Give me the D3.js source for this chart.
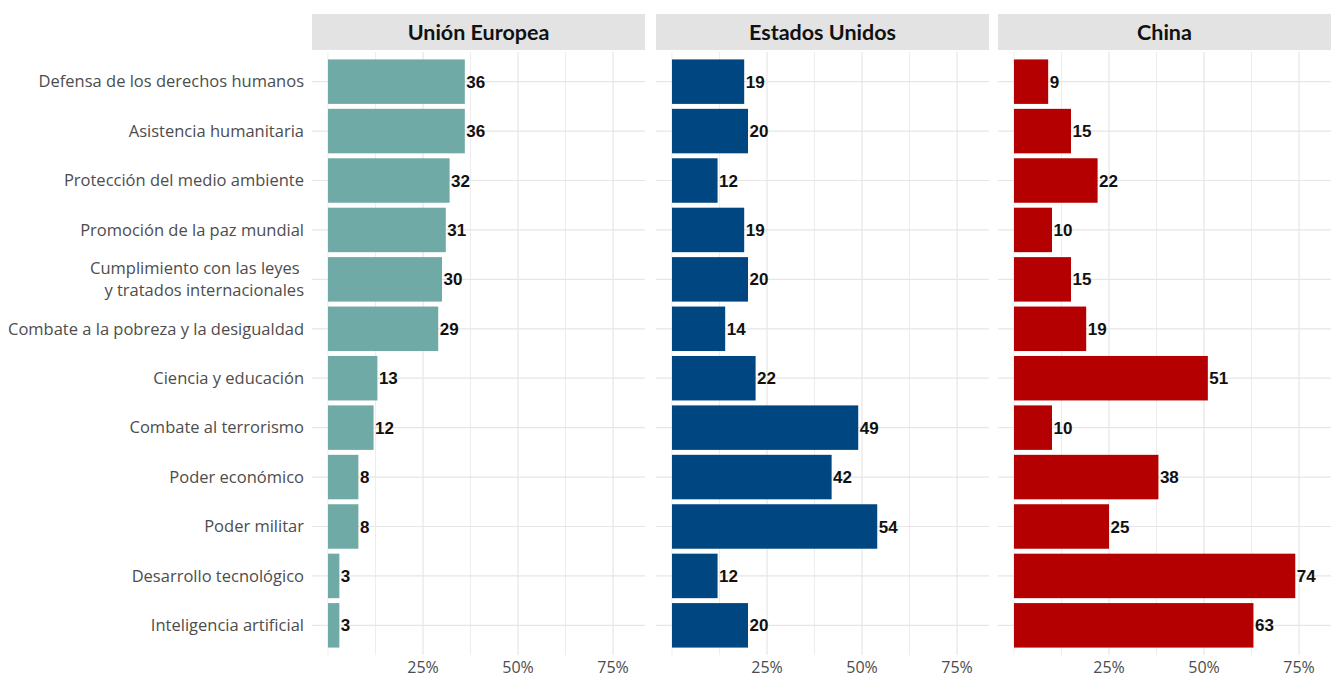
<!DOCTYPE html>
<html>
<head>
<meta charset="utf-8">
<script src="https://cdn.jsdelivr.net/npm/d3@7"></script>
<style>
  body { margin: 0; background: #fff; }
  svg { display: block; }
</style>
</head>
<body>
<div id="chart"></div>
<script>
// Données
const categories = [
  "Defensa de los derechos humanos",
  "Asistencia humanitaria",
  "Protección del medio ambiente",
  "Promoción de la paz mundial",
  "Cumplimiento con las leyes \ny tratados internacionales",
  "Combate a la pobreza y la desigualdad",
  "Ciencia y educación",
  "Combate al terrorismo",
  "Poder económico",
  "Poder militar",
  "Desarrollo tecnológico",
  "Inteligencia artificial"
];
const panels = ["Unión Europea", "Estados Unidos", "China"];
const valuesUE = [36, 36, 32, 31, 30, 29, 13, 12, 8, 8, 3, 3];
const valuesEEUU = [19, 20, 12, 19, 20, 14, 22, 49, 42, 54, 12, 20];
const valuesChina = [9, 15, 22, 10, 15, 19, 51, 10, 38, 25, 74, 63];
const colors = ["#70aaa7", "#004680", "#b40000"];
const majorTicks = [25, 50, 75];
const minorTicks = [0, 12.5, 37.5, 62.5];

const width = 1333;
const height = 680;
const series = [valuesUE, valuesEEUU, valuesChina];

const svg = d3.select("#chart")
  .append("svg")
  .attr("width", width)
  .attr("height", height);

// Position des panneaux
const panelLeft = [312, 656, 998];
const panelWidth = 333;
const panelTop = 52;
const panelBottom = 655;

// Échelle verticale (catégories)
const y = d3.scalePoint()
  .domain(categories)
  .range([panelTop, panelBottom])
  .padding(0.6);
const barH = y.step() * 0.9;

// Étiquettes de l'axe Y
const yLab = svg.append("g")
  .attr("font-family", "'Open Sans', sans-serif")
  .attr("font-size", "16.5px")
  .attr("fill", "#4d4d4d")
  .attr("text-anchor", "end");

categories.forEach(c => {
  const lines = c.split("\n");
  const t = yLab.append("text")
    .attr("x", 304)
    .attr("y", y(c) - (lines.length - 1) * 11);
  lines.forEach((l, i) => {
    t.append("tspan")
      .attr("x", 304)
      .attr("dy", i === 0 ? "0.35em" : "22px")
      .attr("xml:space", "preserve")
      .text(l);
  });
});

panels.forEach((name, p) => {
  const x = d3.scaleLinear()
    .domain([-4.2, 83.4])
    .range([panelLeft[p], panelLeft[p] + panelWidth]);

  const g = svg.append("g");

  // Bandeau du titre
  g.append("rect")
    .attr("x", panelLeft[p])
    .attr("y", 14)
    .attr("width", panelWidth)
    .attr("height", 36)
    .attr("fill", "#e3e3e3");

  g.append("text")
    .attr("x", panelLeft[p] + panelWidth / 2)
    .attr("y", 32)
    .attr("dy", "0.36em")
    .attr("text-anchor", "middle")
    .attr("font-family", "Lato, sans-serif")
    .attr("font-weight", "bold")
    .attr("font-size", "21.5px")
    .attr("fill", "#111")
    .text(name);

  // Grille
  g.selectAll(".minor")
    .data(minorTicks)
    .enter().append("line")
    .attr("x1", d => x(d)).attr("x2", d => x(d))
    .attr("y1", panelTop).attr("y2", panelBottom)
    .attr("stroke", "#ededed")
    .attr("stroke-width", 1);

  g.selectAll(".major")
    .data(majorTicks)
    .enter().append("line")
    .attr("x1", d => x(d)).attr("x2", d => x(d))
    .attr("y1", panelTop).attr("y2", panelBottom)
    .attr("stroke", "#e6e6e6")
    .attr("stroke-width", 1.2);

  g.selectAll(".hgrid")
    .data(categories)
    .enter().append("line")
    .attr("x1", panelLeft[p]).attr("x2", panelLeft[p] + panelWidth)
    .attr("y1", d => y(d)).attr("y2", d => y(d))
    .attr("stroke", "#e6e6e6")
    .attr("stroke-width", 1.2);

  // Barres
  g.selectAll(".bar")
    .data(series[p])
    .enter().append("rect")
    .attr("x", x(0))
    .attr("y", (d, i) => y(categories[i]) - barH / 2)
    .attr("width", d => x(d) - x(0))
    .attr("height", barH)
    .attr("fill", colors[p]);

  // Valeurs
  g.selectAll(".val")
    .data(series[p])
    .enter().append("text")
    .attr("x", d => x(d) + 1.5)
    .attr("y", (d, i) => y(categories[i]))
    .attr("dy", "0.36em")
    .attr("font-family", "'Liberation Sans', Arial, sans-serif")
    .attr("font-weight", "bold")
    .attr("font-size", "17px")
    .attr("fill", "#111")
    .text(d => d);

  // Axe X
  g.selectAll(".tick")
    .data(majorTicks)
    .enter().append("text")
    .attr("x", d => x(d))
    .attr("y", 668)
    .attr("dy", "0.32em")
    .attr("text-anchor", "middle")
    .attr("font-family", "'Open Sans', sans-serif")
    .attr("font-size", "16px")
    .attr("fill", "#4d4d4d")
    .text(d => d + "%");
});
</script>
</body>
</html>
